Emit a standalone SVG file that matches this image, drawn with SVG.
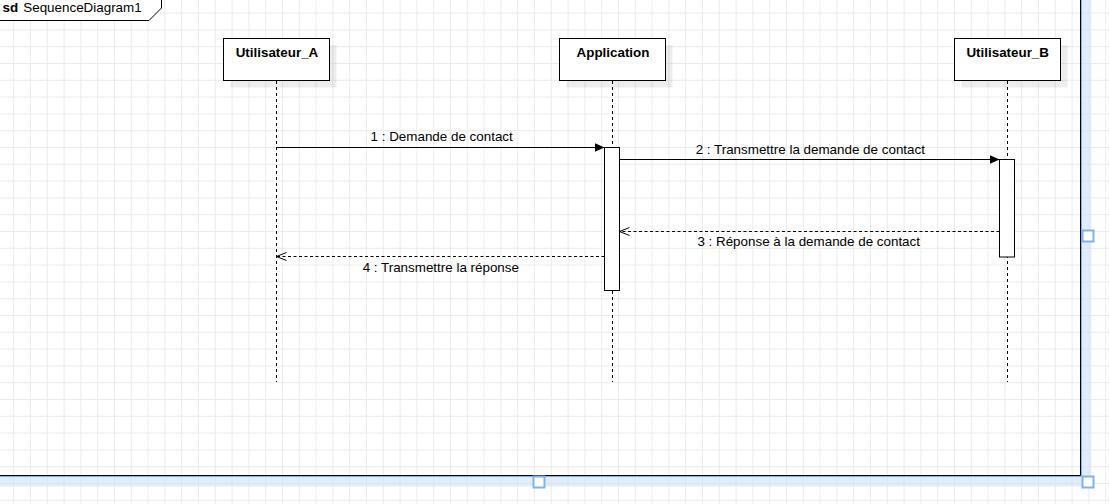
<svg xmlns="http://www.w3.org/2000/svg" width="1109" height="504" viewBox="0 0 1109 504">
  <style>
    text { font-family: "Liberation Sans", Arial, sans-serif; font-size: 13.4px; fill: #000; }
    .head { font-weight: bold; text-anchor: middle; }
    .lbl { text-anchor: middle; }
    .box { fill: #fff; stroke: #000; stroke-width: 1; }
    .shadow { fill: #000; fill-opacity: 0.07; }
    .life { stroke: #000; stroke-width: 1; stroke-dasharray: 3 3; fill: none; }
    .act { fill: #fff; stroke: #000; stroke-width: 1; }
    .sync { stroke: #000; stroke-width: 1; fill: none; }
    .reply { stroke: #000; stroke-width: 1; stroke-dasharray: 3 2.5; fill: none; }
    .handle { fill: #fff; stroke: #7fb2f5; stroke-width: 2; }
  </style>
  <defs>
    <pattern id="grid" patternUnits="userSpaceOnUse" x="13.2" y="12.6" width="16.8" height="16.8">
      <path d="M0.5 0 V16.8 M0 0.5 H16.8" stroke="#ebebeb" stroke-width="1" fill="none"/>
    </pattern>
    <marker id="filled" markerWidth="12" markerHeight="12" refX="10" refY="5" orient="auto" markerUnits="userSpaceOnUse">
      <path d="M0,0.5 L10,5 L0,9.5 Z" fill="#000"/>
    </marker>
    <marker id="open" markerWidth="12" markerHeight="12" refX="10" refY="5" orient="auto" markerUnits="userSpaceOnUse">
      <path d="M0,1 L10,5 L0,9" fill="none" stroke="#000" stroke-width="1"/>
    </marker>
  </defs>

  <rect x="0" y="0" width="1109" height="504" fill="#fff"/>
  <rect x="0" y="0" width="1109" height="504" fill="url(#grid)"/>

  <g id="frame">
    <path d="M0,20.5 H149 L161.5,8 V0 H0 Z" fill="#fff"/>
    <path d="M0,20.5 H149 L161.5,8 V0" fill="none" stroke="#000" stroke-width="1"/>
    <text x="2.5" y="12"><tspan font-weight="bold">sd</tspan><tspan x="23.3">SequenceDiagram1</tspan></text>
    <path d="M1080.5,0 V475.5 H0" fill="none" stroke="#000" stroke-width="1"/>
  </g>

  <g id="lifeline-utilisateur-a">
    <rect class="shadow" x="230.5" y="45.5" width="106" height="42"/>
    <rect class="box" x="223.5" y="38.5" width="106" height="42"/>
    <text class="head" x="277" y="56.5">Utilisateur_A</text>
    <line class="life" x1="276.5" y1="81" x2="276.5" y2="382"/>
  </g>

  <g id="lifeline-application">
    <rect class="shadow" x="566.5" y="45.5" width="106" height="42"/>
    <rect class="box" x="559.5" y="38.5" width="106" height="42"/>
    <text class="head" x="613" y="56.5">Application</text>
    <line class="life" x1="612.5" y1="81" x2="612.5" y2="382"/>
    <rect class="act" x="604.5" y="147.5" width="15" height="143"/>
  </g>

  <g id="lifeline-utilisateur-b">
    <rect class="shadow" x="961.5" y="45.5" width="106" height="42"/>
    <rect class="box" x="954.5" y="38.5" width="106" height="42"/>
    <text class="head" x="1007.7" y="56.5">Utilisateur_B</text>
    <line class="life" x1="1007.5" y1="81" x2="1007.5" y2="382"/>
    <rect class="act" x="999.5" y="159.5" width="15" height="97.5"/>
  </g>

  <g id="connectors">
    <g id="msg1">
      <line class="sync" x1="276.5" y1="147.5" x2="604.5" y2="147.5" marker-end="url(#filled)"/>
      <text class="lbl" x="441.7" y="141">1 : Demande de contact</text>
    </g>
    <g id="msg2">
      <line class="sync" x1="619.5" y1="159.5" x2="999.5" y2="159.5" marker-end="url(#filled)"/>
      <text class="lbl" x="810.3" y="154">2 : Transmettre la demande de contact</text>
    </g>
    <g id="msg3">
      <line class="reply" x1="999.5" y1="231.5" x2="619.5" y2="231.5" marker-end="url(#open)"/>
      <text class="lbl" x="808.7" y="246">3 : Réponse à la demande de contact</text>
    </g>
    <g id="msg4">
      <line class="reply" x1="604.5" y1="256.5" x2="276.5" y2="256.5" marker-end="url(#open)"/>
      <text class="lbl" x="440.8" y="272">4 : Transmettre la réponse</text>
    </g>
  </g>

  <g id="selection">
    <path d="M1086.5,0 V481.5 H0" fill="none" stroke="#cfe1fa" stroke-opacity="0.6" stroke-width="10"/>
    <path d="M1081.5,0 V476.5 H0" fill="none" stroke="#7fb2f5" stroke-width="1"/>
    <rect class="handle" x="1082.5" y="230.5" width="11" height="11"/>
    <rect class="handle" x="533.5" y="476.5" width="11" height="11"/>
    <rect class="handle" x="1082.5" y="476.5" width="11" height="11"/>
  </g>
</svg>
